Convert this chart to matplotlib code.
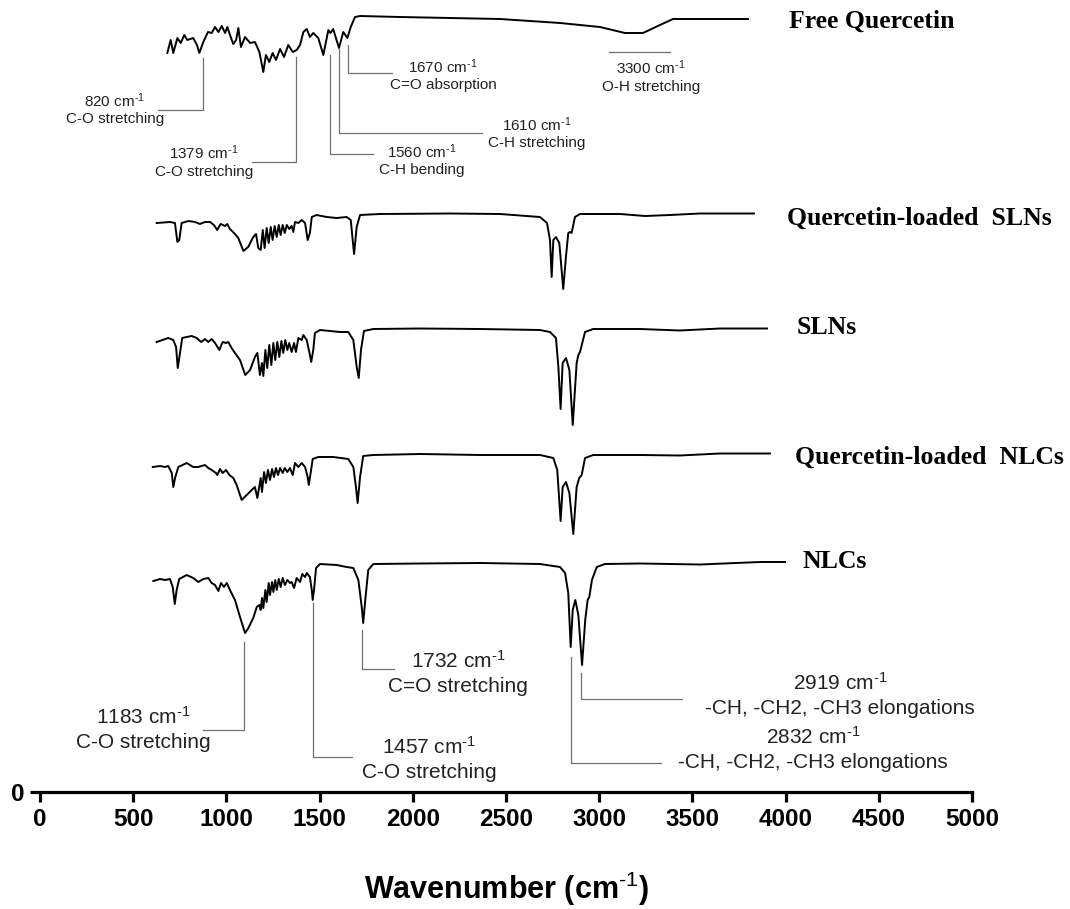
import matplotlib.pyplot as plt

plt.rcParams['font.family'] = ['Liberation Sans', 'DejaVu Sans']
plt.rcParams['mathtext.fontset'] = 'custom'
plt.rcParams['mathtext.rm'] = 'Liberation Sans'
plt.rcParams['mathtext.it'] = 'Liberation Sans:italic'
plt.rcParams['mathtext.bf'] = 'Liberation Sans:bold'

# FTIR traces (wavenumber, signal relative to each trace's own plateau, a.u.)
fq_wn = [683, 701, 715, 737, 755, 774, 790, 822, 842, 855, 874, 901, 921, 939, 957, 975, 993, 1005, 1023, 1037,
         1052, 1064, 1078, 1100, 1127, 1153, 1177, 1198, 1212, 1230, 1248, 1266, 1288, 1309, 1332, 1356, 1377, 1395,
         1413, 1431, 1448, 1466, 1493, 1520, 1547, 1558, 1573, 1604, 1627, 1649, 1667, 1690, 1717, 1931, 2200, 2468,
         2790, 3004, 3138, 3235, 3326, 3396, 3541, 3798]
fq_val = [-36, -23, -36, -21, -26, -18, -23, -21, -28, -36, -26, -15, -16, -10, -15, -9, -16, -10, -20, -27,
          -23, -11, -30, -20, -26, -25, -35, -55, -38, -45, -36, -43, -32, -40, -28, -35, -33, -28,
          -15, -12, -20, -16, -21, -38, -13, -16, -12, -31, -15, -21, -10, 0, 1, 0, -1, -2,
          -6, -10, -16, -16, -8, -2, -2, -2]

qs_wn = [626, 697, 724, 737, 747, 760, 796, 832, 858, 885, 912, 933, 951, 969, 993, 1005, 1019, 1041, 1064, 1091,
         1117, 1144, 1159, 1171, 1184, 1195, 1205, 1216, 1227, 1238, 1248, 1259, 1270, 1281, 1291, 1302, 1313, 1324,
         1337, 1350, 1359, 1368, 1386, 1404, 1422, 1436, 1448, 1458, 1484, 1538, 1592, 1645, 1667, 1685, 1699, 1717,
         1824, 2200, 2468, 2682, 2720, 2736, 2745, 2754, 2768, 2786, 2807, 2822, 2834, 2843, 2852, 2870, 2897, 3112,
         3246, 3380, 3541, 3830]
qs_val = [-9, -8, -9, -28, -26, -9, -7, -8, -10, -8, -8, -11, -16, -10, -12, -10, -15, -19, -24, -37,
          -33, -23, -20, -34, -36, -16, -34, -14, -29, -13, -26, -12, -23, -11, -21, -11, -19, -11,
          -15, -12, -18, -8, -9, -6, -9, -26, -19, -3, -1, -3, -4, -3, -6, -40, -13, -1,
          0, 0.5, 0, -3, -9, -26, -63, -26, -23, -29, -75, -42, -19, -18, -19, -3, 0, 0,
          -2, -1, 0.5, 0.5]

sl_wn = [626, 688, 715, 730, 739, 751, 763, 787, 814, 841, 864, 885, 903, 921, 939, 962, 980, 998, 1010, 1028,
         1046, 1073, 1101, 1127, 1153, 1166, 1180, 1191, 1198, 1209, 1219, 1230, 1241, 1252, 1262, 1273, 1284, 1295,
         1305, 1316, 1327, 1337, 1350, 1363, 1373, 1386, 1404, 1413, 1431, 1448, 1455, 1466, 1475, 1502, 1609, 1654,
         1681, 1699, 1710, 1722, 1738, 1788, 2039, 2361, 2682, 2736, 2768, 2781, 2793, 2804, 2822, 2840, 2858, 2879,
         2888, 2897, 2924, 2968, 3219, 3433, 3648, 3900]
sl_val = [-13, -9, -11, -18, -39, -24, -9, -8, -7, -9, -13, -10, -13, -10, -14, -21, -13, -14, -13, -19,
          -24, -31, -46, -41, -28, -24, -46, -34, -47, -21, -39, -16, -36, -14, -31, -13, -28, -12,
          -24, -11, -21, -14, -23, -14, -23, -9, -11, -6, -11, -26, -33, -21, -4, -1, -3, -3,
          -11, -38, -49, -21, -2, 0, 0.5, 0, -1, -3, -9, -38, -80, -34, -29, -41, -96, -34,
          -26, -23, -3, 0, 0, -1.5, 0.5, 0.5]

qn_wn = [605, 644, 671, 688, 707, 715, 726, 742, 787, 822, 849, 885, 903, 921, 944, 951, 966, 980, 998, 1016,
         1037, 1055, 1082, 1109, 1136, 1153, 1166, 1176, 1184, 1191, 1202, 1212, 1223, 1234, 1245, 1255, 1266, 1277,
         1288, 1302, 1313, 1327, 1341, 1356, 1368, 1386, 1404, 1422, 1436, 1442, 1452, 1463, 1493, 1573, 1654, 1681,
         1695, 1704, 1717, 1734, 1788, 2039, 2361, 2682, 2754, 2775, 2793, 2804, 2822, 2840, 2861, 2879, 2893, 2906,
         2924, 2968, 3219, 3433, 3648, 3916]
qn_val = [-12, -11, -12, -11, -18, -32, -22, -12, -8, -12, -12, -10, -13, -15, -18, -20, -14, -18, -15, -20,
          -23, -30, -45, -40, -35, -32, -43, -32, -23, -37, -17, -28, -15, -25, -14, -22, -13, -20,
          -13, -18, -13, -17, -13, -20, -8, -12, -8, -12, -22, -30, -18, -4, -2, -2, -4, -12,
          -32, -48, -22, -1, 0, 1, 0, 0, -3, -15, -66, -32, -27, -38, -79, -32, -23, -20,
          -3, 0, 0, -0.5, 1.5, 1.5]

nl_wn = [608, 644, 671, 697, 712, 723, 733, 747, 787, 822, 849, 876, 903, 921, 939, 957, 971, 987, 1002, 1019,
         1046, 1073, 1100, 1118, 1144, 1163, 1177, 1184, 1191, 1198, 1209, 1216, 1227, 1234, 1245, 1252, 1262, 1270,
         1281, 1291, 1302, 1314, 1327, 1341, 1350, 1363, 1377, 1395, 1407, 1422, 1431, 1448, 1458, 1463, 1470, 1481,
         1502, 1592, 1645, 1681, 1708, 1726, 1734, 1745, 1761, 1788, 2039, 2361, 2682, 2790, 2817, 2834, 2847, 2858,
         2872, 2888, 2908, 2925, 2938, 2947, 2961, 2987, 3031, 3219, 3541, 3863, 3997]
nl_val = [-17, -15, -16, -15, -23, -40, -26, -15, -11, -14, -18, -15, -14, -19, -21, -27, -19, -23, -19, -26,
          -36, -53, -69, -64, -54, -43, -41, -46, -34, -44, -26, -38, -19, -31, -18, -28, -16, -26,
          -15, -23, -14, -21, -16, -19, -18, -24, -14, -18, -10, -13, -9, -13, -26, -36, -26, -4,
          0, -1, -3, -4, -16, -43, -59, -36, -6, 0, 0.5, 1, 0, -3, -9, -29, -83, -46,
          -36, -51, -101, -56, -36, -33, -16, -3, 0, 0.5, -0.5, 2, 2]

sample_names = ['Free Quercetin', 'Quercetin-loaded  SLNs', 'SLNs', 'Quercetin-loaded  NLCs', 'NLCs']
x_ticks = [0, 500, 1000, 1500, 2000, 2500, 3000, 3500, 4000, 4500, 5000]

traces = [(fq_wn, fq_val), (qs_wn, qs_val), (sl_wn, sl_val), (qn_wn, qn_val), (nl_wn, nl_val)]
offsets = [775, 578, 463, 337, 228]
name_pos = [(4018, 771), (4008, 574), (4061, 464), (4053, 335), (4093, 230)]

SUP = r' cm$^{\text{-1}}$'

fig = plt.figure(figsize=(10.7, 9.09), dpi=100)
ax = fig.add_axes([40 / 1070, 1 - 792 / 909, 932 / 1070, 792 / 909])

for (wn, val), off, name, (tx, ty) in zip(traces, offsets, sample_names, name_pos):
    ax.plot(wn, [off + v for v in val], color='black', lw=1.4, solid_joinstyle='round')
    ax.text(tx, ty, name, family=['Liberation Serif'], fontweight='bold', fontsize=18.5,
            ha='left', va='center')

# callouts: marker x, tip y, elbow y, end x, text x, y line1, y line2, wavenumber, assignment, size
callouts = [
    (874, 734, 682, 633, 402, 691, 673, '820', 'C-O stretching', 11),
    (1373, 735, 630, 1137, 880, 639, 620, '1379', 'C-O stretching', 11),
    (1556, 737, 638, 1786, 2049, 640, 622, '1560', 'C-H bending', 11),
    (1606, 743, 659, 2371, 2666, 667, 649, '1610', 'C-H stretching', 11),
    (1650, 747, 719, 1888, 2162, 725, 707, '1670', 'C=O absorption', 11),
    (1097, 150, 62, 872, 553, 75, 49, '1183', 'C-O stretching', 15),
    (1467, 189, 35, 1674, 2087, 45, 20, '1457', 'C-O stretching', 15),
    (1729, 162, 123, 1899, 2243, 131, 105, '1732', 'C=O stretching', 15),
    (2847, 135, 29, 3331, 4147, 55, 29, '2832', '-CH, -CH2, -CH3 elongations', 15),
    (2904, 119, 93, 3443, 4292, 109, 84, '2919', '-CH, -CH2, -CH3 elongations', 15),
]
for xm, yt, ye, xe, tx, y1, y2, num, desc, fs in callouts:
    ax.plot([xm, xm, xe], [yt, ye, ye], color='#707070', lw=0.9)
    ax.text(tx, y1, num + SUP, fontsize=fs, ha='center', va='center', color='#222222')
    ax.text(tx, y2, desc, fontsize=fs, ha='center', va='center', color='#222222')

# broad O-H band marker
ax.plot([3053, 3380], [740, 740], color='#707070', lw=0.9)
ax.text(3278, 724, '3300' + SUP, fontsize=11, ha='center', va='center', color='#222222')
ax.text(3278, 705, 'O-H stretching', fontsize=11, ha='center', va='center', color='#222222')

ax.set_xlim(0, 5000)
ax.set_ylim(0, 792)
for side in ['top', 'right', 'left']:
    ax.spines[side].set_visible(False)
ax.spines['bottom'].set_linewidth(2.3)
ax.set_xticks(x_ticks)
ax.set_xticklabels([str(t) for t in x_ticks], fontweight='bold', fontsize=17.5)
ax.set_yticks([0])
ax.set_yticklabels(['0'], fontweight='bold', fontsize=17.5)
ax.tick_params(axis='both', direction='out', length=7.5, width=2.3, pad=4)
ax.patch.set_alpha(0)

fig.text(506 / 1070, 1 - 889 / 909, r'Wavenumber (cm$^{\mathbf{\text{-1}}}$)', fontsize=22, fontweight='bold',
         ha='center', va='center')

fig.savefig('out.png', dpi=100, facecolor='white')
